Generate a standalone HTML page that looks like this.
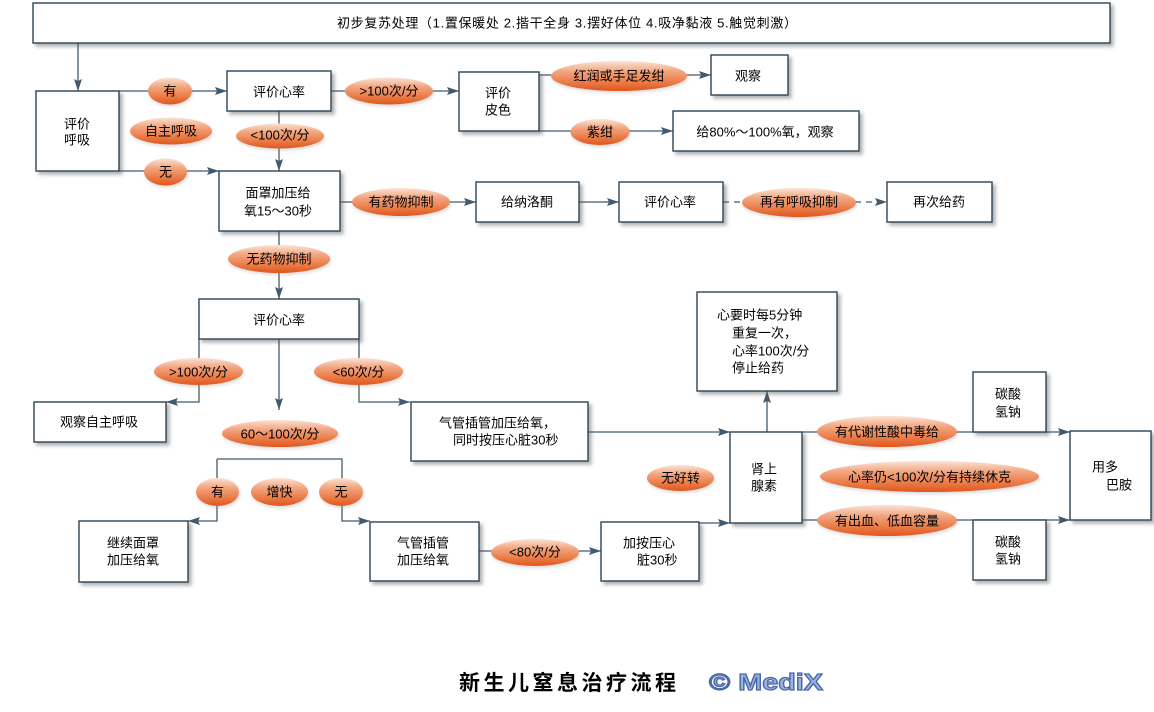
<!DOCTYPE html>
<html><head><meta charset="utf-8"><style>
html,body{margin:0;padding:0;background:#fff;}
svg{display:block;}
text{font-family:"Liberation Sans","Noto Sans CJK SC",sans-serif;font-size:13px;fill:#000;}
.b{fill:#fff;stroke:#2c4456;stroke-width:1.4;filter:url(#sh);}
.l{fill:none;stroke:#405a70;stroke-width:1.3;}
.e{fill:url(#og);filter:url(#sh2);}
</style></head><body>
<svg width="1154" height="712" viewBox="0 0 1154 712" xmlns="http://www.w3.org/2000/svg">
<defs>
<filter id="sh" x="-10%" y="-10%" width="130%" height="140%">
<feDropShadow dx="3" dy="3" stdDeviation="1.8" flood-color="#555" flood-opacity="0.45"/>
</filter>
<filter id="sh2" x="-10%" y="-20%" width="130%" height="150%">
<feDropShadow dx="1" dy="2" stdDeviation="1.5" flood-color="#999" flood-opacity="0.35"/>
</filter>
<linearGradient id="og" x1="0" y1="0" x2="0" y2="1">
<stop offset="0" stop-color="#fbe3d4"/>
<stop offset="0.35" stop-color="#f2a57f"/>
<stop offset="0.7" stop-color="#ea7c48"/>
<stop offset="1" stop-color="#e0561c"/>
</linearGradient>
<marker id="a" markerWidth="13" markerHeight="9" refX="12" refY="4.5" orient="auto" markerUnits="userSpaceOnUse">
<path d="M0,0.5 L12,4.5 L0,8.5 L2,4.5 z" fill="#405a70"/>
</marker>
</defs>

<!-- connectors -->
<line class="l" x1="78" y1="43" x2="78" y2="91" marker-end="url(#a)"/>
<line class="l" x1="119" y1="91" x2="227" y2="91" marker-end="url(#a)"/>
<line class="l" x1="119" y1="171" x2="219" y2="171" marker-end="url(#a)"/>
<line class="l" x1="279" y1="111" x2="279" y2="171" marker-end="url(#a)"/>
<line class="l" x1="331" y1="91" x2="459" y2="91" marker-end="url(#a)"/>
<line class="l" x1="539" y1="75" x2="711" y2="75" marker-end="url(#a)"/>
<line class="l" x1="539" y1="131" x2="673" y2="131" marker-end="url(#a)"/>
<line class="l" x1="340" y1="202" x2="476" y2="202" marker-end="url(#a)"/>
<line class="l" x1="579" y1="202" x2="619" y2="202" marker-end="url(#a)"/>
<line class="l" x1="723" y1="202" x2="887" y2="202" stroke-dasharray="6,5" marker-end="url(#a)"/>
<line class="l" x1="279" y1="231" x2="279" y2="299" marker-end="url(#a)"/>
<polyline class="l" points="199,339 199,402 166,402" marker-end="url(#a)"/>
<line class="l" x1="279" y1="339" x2="279" y2="410" marker-end="url(#a)"/>
<polyline class="l" points="359,339 359,402 410,402" marker-end="url(#a)"/>
<polyline class="l" points="217,459 217,521 188,521" marker-end="url(#a)"/>
<polyline class="l" points="217,459 342,459 342,521 370,521" marker-end="url(#a)"/>
<line class="l" x1="479" y1="551" x2="601" y2="551" marker-end="url(#a)"/>
<line class="l" x1="699" y1="523" x2="730" y2="523" marker-end="url(#a)"/>
<line class="l" x1="588" y1="432" x2="730" y2="432" marker-end="url(#a)"/>
<line class="l" x1="767" y1="432" x2="767" y2="391" marker-end="url(#a)"/>
<line class="l" x1="802" y1="432" x2="1070" y2="432" marker-end="url(#a)"/>
<line class="l" x1="802" y1="520" x2="1070" y2="520" marker-end="url(#a)"/>

<!-- boxes -->
<rect class="b" x="33" y="3" width="1077" height="40"/>
<rect class="b" x="36" y="91" width="83" height="80"/>
<rect class="b" x="227" y="71" width="104" height="40"/>
<rect class="b" x="219" y="171" width="121" height="60"/>
<rect class="b" x="459" y="72" width="80" height="59"/>
<rect class="b" x="711" y="55" width="77" height="40"/>
<rect class="b" x="673" y="111" width="186" height="40"/>
<rect class="b" x="476" y="182" width="103" height="40"/>
<rect class="b" x="619" y="182" width="104" height="40"/>
<rect class="b" x="887" y="182" width="105" height="40"/>
<rect class="b" x="199" y="299" width="160" height="40"/>
<rect class="b" x="34" y="402" width="132" height="40"/>
<rect class="b" x="411" y="402" width="177" height="59"/>
<rect class="b" x="79" y="521" width="109" height="61"/>
<rect class="b" x="370" y="522" width="109" height="59"/>
<rect class="b" x="601" y="522" width="98" height="59"/>
<rect class="b" x="697" y="292" width="140" height="99"/>
<rect class="b" x="730" y="432" width="72" height="91"/>
<rect class="b" x="973" y="372" width="73" height="60"/>
<rect class="b" x="973" y="520" width="73" height="60"/>
<rect class="b" x="1070" y="431" width="81" height="89"/>

<!-- ellipses -->
<ellipse class="e" cx="170" cy="91" rx="22" ry="13.5"/>
<ellipse class="e" cx="171" cy="131" rx="41" ry="13.5"/>
<ellipse class="e" cx="165.5" cy="172" rx="21.5" ry="13.5"/>
<ellipse class="e" cx="280" cy="136" rx="44" ry="12.5"/>
<ellipse class="e" cx="389" cy="91" rx="44" ry="13.5"/>
<ellipse class="e" cx="619" cy="76" rx="68" ry="15"/>
<ellipse class="e" cx="600" cy="132" rx="29.5" ry="13"/>
<ellipse class="e" cx="401" cy="202" rx="49" ry="14"/>
<ellipse class="e" cx="799" cy="202.5" rx="57" ry="14.5"/>
<ellipse class="e" cx="279" cy="259" rx="51" ry="14"/>
<ellipse class="e" cx="198.5" cy="371.5" rx="44.5" ry="13.5"/>
<ellipse class="e" cx="358.5" cy="371.5" rx="44.5" ry="13.5"/>
<ellipse class="e" cx="280" cy="433.5" rx="58" ry="13.5"/>
<ellipse class="e" cx="217.5" cy="492" rx="21.5" ry="14"/>
<ellipse class="e" cx="279.5" cy="492" rx="28.5" ry="14"/>
<ellipse class="e" cx="341" cy="492" rx="22" ry="14"/>
<ellipse class="e" cx="535" cy="552.5" rx="44" ry="13.5"/>
<ellipse class="e" cx="680.5" cy="478" rx="33.5" ry="13"/>
<ellipse class="e" cx="887" cy="431.5" rx="70" ry="15.5"/>
<ellipse class="e" cx="929.5" cy="476.5" rx="109.5" ry="15.5"/>
<ellipse class="e" cx="887" cy="520.5" rx="70" ry="15.5"/>

<!-- box text -->
<g text-anchor="middle" dominant-baseline="central">
<text x="567" y="23" textLength="460" lengthAdjust="spacing">初步复苏处理（1.置保暖处 2.揩干全身 3.摆好体位 4.吸净黏液 5.触觉刺激）</text>
<text x="77" y="124">评价</text>
<text x="77" y="140">呼吸</text>
<text x="279" y="92">评价心率</text>
<text x="278" y="193">面罩加压给</text>
<text x="278" y="211">氧15～30秒</text>
<text x="498" y="93">评价</text>
<text x="498" y="110">皮色</text>
<text x="748" y="76">观察</text>
<text x="765" y="132">给80%～100%氧，观察</text>
<text x="527" y="202">给纳洛酮</text>
<text x="670" y="202">评价心率</text>
<text x="939" y="202">再次给药</text>
<text x="279" y="320">评价心率</text>
<text x="99" y="422">观察自主呼吸</text>
<text x="133" y="543">继续面罩</text>
<text x="133" y="560">加压给氧</text>
<text x="423" y="543">气管插管</text>
<text x="423" y="560">加压给氧</text>
<text x="764" y="469">肾上</text>
<text x="764" y="486">腺素</text>
<text x="1008" y="394">碳酸</text>
<text x="1008" y="412">氢钠</text>
<text x="1008" y="542">碳酸</text>
<text x="1008" y="559">氢钠</text>
</g>
<g dominant-baseline="central">
<text x="439" y="423">气管插管加压给氧，</text>
<text x="453" y="440">同时按压心脏30秒</text>
<text x="623" y="543">加按压心</text>
<text x="637" y="560">脏30秒</text>
<text x="717" y="315">心要时每5分钟</text>
<text x="732" y="333">重复一次，</text>
<text x="732" y="351">心率100次/分</text>
<text x="732" y="368">停止给药</text>
<text x="1092" y="467">用多</text>
<text x="1106" y="485">巴胺</text>
</g>

<!-- ellipse text -->
<g text-anchor="middle" dominant-baseline="central">
<text x="170" y="91">有</text>
<text x="171" y="131">自主呼吸</text>
<text x="165.5" y="172">无</text>
<text x="280" y="135">&lt;100次/分</text>
<text x="389" y="91">&gt;100次/分</text>
<text x="619" y="76">红润或手足发绀</text>
<text x="600" y="132">紫绀</text>
<text x="401" y="202">有药物抑制</text>
<text x="799" y="202">再有呼吸抑制</text>
<text x="279" y="259">无药物抑制</text>
<text x="198.5" y="372">&gt;100次/分</text>
<text x="358.5" y="372">&lt;60次/分</text>
<text x="280" y="434">60～100次/分</text>
<text x="217.5" y="492">有</text>
<text x="279.5" y="492">增快</text>
<text x="341" y="492">无</text>
<text x="535" y="552">&lt;80次/分</text>
<text x="680.5" y="478">无好转</text>
<text x="887" y="432">有代谢性酸中毒给</text>
<text x="929.5" y="477">心率仍&lt;100次/分有持续休克</text>
<text x="887" y="521">有出血、低血容量</text>
</g>

<!-- title -->
<text x="459" y="690" style="font-family:'Noto Sans CJK SC',sans-serif;font-size:21px;font-weight:bold;letter-spacing:3.5px;">新生儿窒息治疗流程</text>
<text x="709" y="690" textLength="114" lengthAdjust="spacingAndGlyphs" style="font-family:'Liberation Sans',sans-serif;font-size:23px;font-weight:bold;fill:#9db4e0;stroke:#4a68a8;stroke-width:1.2;">© MediX</text>
</svg>
</body></html>
